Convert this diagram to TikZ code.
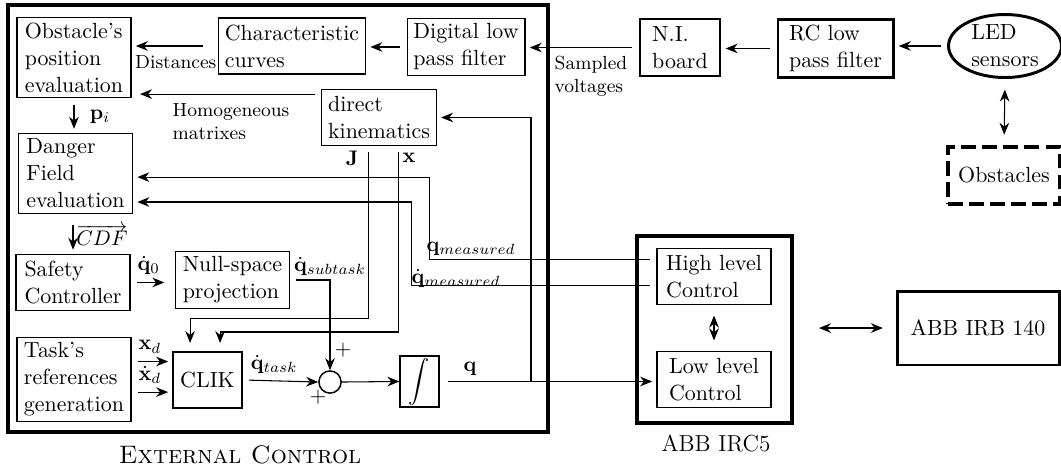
\documentclass[tikz,border=0pt]{standalone}
\usetikzlibrary{positioning,arrows.meta,calc,shapes.geometric}
\tikzset{
  blk/.style    = {draw, line width=0.6pt, align=left, minimum width=1.9cm,
                   minimum height=0.93cm, inner xsep=3pt, inner ysep=2.5pt,
                   font=\fontsize{10.4pt}{12.8pt}\selectfont},
  hw/.style     = {blk, line width=1.4pt},
  frame/.style  = {draw, line width=1.8pt, inner sep=0pt},
  flow/.style   = {-{Stealth[length=2mm,width=1.6mm]}, line width=0.5pt,
                   shorten <=3pt, shorten >=2pt},
  both/.style   = {{Stealth[length=2mm,width=1.6mm]}-{Stealth[length=2mm,width=1.6mm]},
                   line width=0.5pt, shorten <=5pt, shorten >=5pt},
  lbl/.style    = {font=\small, align=left, inner sep=1pt},
  mlbl/.style   = {inner sep=0.5pt},
  sumnd/.style  = {circle, draw, line width=0.7pt, minimum size=0.37cm, inner sep=0pt},
  ttl/.style    = {font=\large},
}
\begin{document}
\begin{tikzpicture}
  \useasboundingbox (0,0) rectangle (17.683,-7.8);

  %% ---------------- external control ----------------
  \node[frame, minimum width=9cm, minimum height=7.117cm] (ext) at (4.633,-3.642) {};
  \node[ttl] (extlbl) at (4.0,-7.583) {\textsc{External Control}};

  \node[blk] (obst)    at (1.233,-0.958) {Obstacle's\\position\\evaluation};
  \node[blk, minimum width=2.4cm] (charc) at (4.867,-0.767) {Characteristic\\curves};
  \node[blk] (dlpf)    at (7.767,-0.783) {Digital low\\pass filter};
  \node[blk] (dkin)    at (6.317,-1.958) {direct\\kinematics};
  \node[blk] (dfield)  at (1.258,-2.892) {Danger\\Field\\evaluation};
  \node[blk] (safety)  at (1.217,-4.708) {Safety\\Controller};
  \node[blk] (nullsp)  at (3.875,-4.667) {Null-space\\projection};
  \node[blk] (taskref) at (1.233,-6.325) {Task's\\references\\generation};
  \node[blk, minimum width=1.15cm] (clik) at (3.458,-6.333) {CLIK};
  \node[sumnd] (sum)   at (5.5,-6.367) {};
  \node[blk, minimum width=0.65cm, minimum height=0.717cm, inner sep=1pt]
       (integ) at (6.992,-6.358) {$\displaystyle\int$};

  %% ---------------- ABB IRC5 ----------------
  \node[frame, line width=1.6pt, minimum width=2.583cm, minimum height=3.117cm]
       (irc5) at (11.908,-5.492) {};
  \node[font=\fontsize{11pt}{13pt}\selectfont] (irclbl) at (11.933,-7.383) {ABB IRC5};
  \node[blk] (hlc) at (11.9,-4.608) {High level\\Control};
  \node[blk] (llc) at (11.9,-6.325) {Low level\\Control};

  %% ---------------- hardware ----------------
  \node[hw, minimum width=2.7cm, minimum height=1.233cm] (irb) at (16.3,-5.467) {ABB IRB 140};
  \node[hw, minimum width=1.333cm, minimum height=0.95cm] (ni) at (11.333,-0.792) {N.I.\\board};
  \node[hw, minimum width=1.917cm, minimum height=0.95cm] (rc) at (13.925,-0.808) {RC low\\pass filter};
  \node[ellipse, draw, line width=1.4pt, align=left, inner sep=0.5pt,
        font=\fontsize{10.4pt}{12.8pt}\selectfont,
        minimum width=1.883cm, minimum height=1.05cm] (led) at (16.75,-0.767) {LED\\sensors};
  \node[hw, line width=1.6pt, dash pattern=on 7pt off 3pt, minimum width=1.867cm,
        minimum height=0.95cm] (obstacles) at (16.733,-2.925) {Obstacles};

  %% ---------------- sensing chain ----------------
  \draw[flow] (led.west) -- (rc.east |- led.west);
  \draw[flow] (rc.west) -- (ni.east |- rc.west);
  \draw[flow] (ni.west) -- (dlpf.east |- ni.west);
  \node[lbl] (sampled) at (9.85,-1.267) {Sampled\\voltages};
  \draw[flow] (dlpf.west) -- (charc.east |- dlpf.west);
  \draw[flow, shorten <=7pt] (charc.west) -- (obst.east |- charc.west);
  \node[lbl] (dist) at (2.93,-1.04) {Distances};
  \draw[flow, shorten >=4pt] ([yshift=0.39cm]dkin.west) -- ([yshift=0.39cm]dkin.west -| obst.east);
  \node[lbl] (homog) at (3.85,-2.033) {Homogeneous\\matrixes};
  \draw[both] (led.south) -- (obstacles.north);

  %% ---------------- left column ----------------
  \draw[flow] (obst.south) -- (obst.south |- dfield.north);
  \node[mlbl] (pi) at (1.667,-1.95) {$\mathbf{p}_i$};
  \draw[flow, shorten <=5pt] (safety.north |- dfield.south) -- (safety.north);
  \node[mlbl] (cdf) at (1.7,-3.917) {$\overrightarrow{CDF}$};
  \draw[flow, shorten >=5pt] (safety.east) -- (nullsp.west |- safety.east);
  \node[mlbl] (qd0) at (2.48,-4.42) {$\dot{\mathbf{q}}_0$};
  \draw[flow] ([yshift=0.3cm]taskref.east) -- ([yshift=0.3cm]taskref.east -| clik.west);
  \draw[flow] ([yshift=-0.21cm]taskref.east) -- ([yshift=-0.21cm]taskref.east -| clik.west);
  \node[mlbl] (xd)  at (2.5,-5.78)  {$\mathbf{x}_d$};
  \node[mlbl] (xdd) at (2.5,-6.25) {$\dot{\mathbf{x}}_d$};

  %% ---------------- CLIK loop ----------------
  \draw[flow, shorten >=4pt] ([xshift=-0.18cm]dkin.south) -- ++(0,-2.867)
        -| ([xshift=-0.29cm]clik.north);
  \draw[flow, shorten >=4pt] ([xshift=0.317cm]dkin.south) -- ++(0,-3.1)
        -| ([xshift=0.21cm]clik.north);
  \node[mlbl] (jac) at (5.867,-2.633) {$\mathbf{J}$};
  \node[mlbl] (xx)  at (6.817,-2.633) {$\mathbf{x}$};
  \draw[flow, shorten >=0pt] (nullsp.east) -| (sum.north);
  \node[mlbl] (qsub) at (5.5,-4.44) {$\dot{\mathbf{q}}_{subtask}$};
  \draw[flow, shorten >=0pt] (clik.east) -- (sum.west);
  \node[mlbl] (qtask) at (4.57,-6.07) {$\dot{\mathbf{q}}_{task}$};
  \node[mlbl] (plus1) at (5.717,-5.833) {$+$};
  \node[mlbl] (plus2) at (5.3,-6.617) {$+$};
  \draw[flow, shorten <=0pt, shorten >=0pt] (sum.east) -- (integ.west);
  \draw[flow, shorten <=4pt] (integ.east) -- (llc.west |- integ.east);
  \node[mlbl] (qout) at (7.833,-6.15) {$\mathbf{q}$};
  \coordinate (qb) at (integ.east -| 8.85,0);
  \draw[flow, shorten <=0pt] (qb) |- (dkin.east);

  %% ---------------- measured feedback ----------------
  \draw[flow] ([yshift=0.29cm]hlc.west) -- ++(-3.783,0) |- ([yshift=-0.06cm]dfield.east);
  \draw[flow] ([yshift=-0.158cm]hlc.west) -- ++(-4.083,0) |- ([yshift=-0.475cm]dfield.east);
  \node[mlbl] (qm)  at (7.85,-4.15) {$\mathbf{q}_{measured}$};
  \node[mlbl] (qdm) at (7.6,-4.64) {$\dot{\mathbf{q}}_{measured}$};
  \draw[both] (hlc.south) -- (llc.north);
  \draw[both, shorten <=12pt, shorten >=6pt] (irc5.east |- irb.west) -- (irb.west);
\end{tikzpicture}
\end{document}
